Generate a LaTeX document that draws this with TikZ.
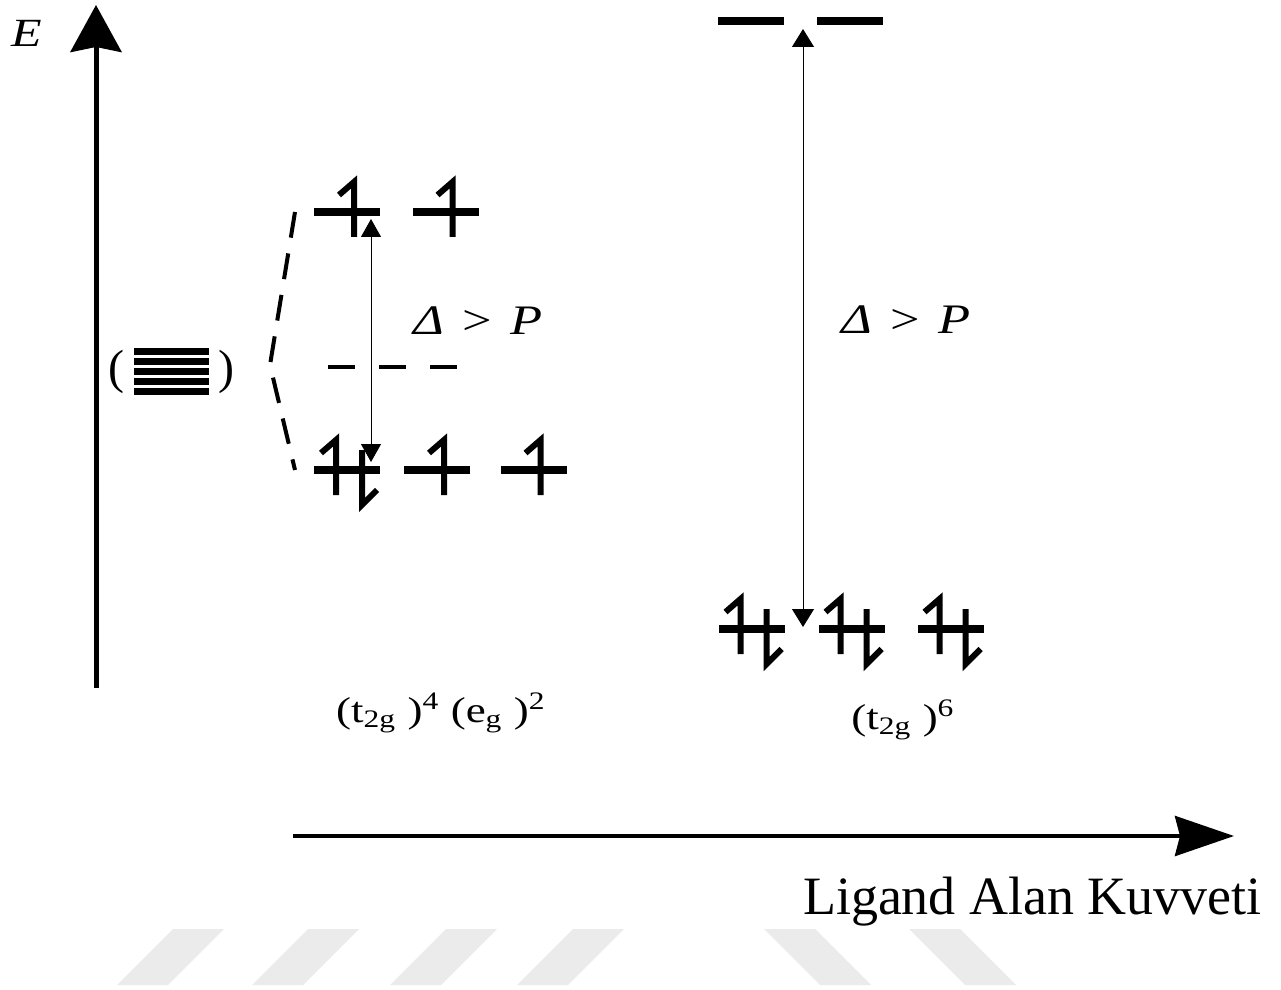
\documentclass[tikz,border=0pt]{standalone}
\usepackage{fontspec}
\setmainfont{Liberation Serif}
\usepackage{graphicx}
\usetikzlibrary{arrows.meta}
\newcommand{\sx}[1]{\scalebox{1.25}[1]{#1}}
\begin{document}
\begin{tikzpicture}[x=0.5pt,y=-0.5pt,
  lvl/.style={fill=black,draw=none,minimum width=33pt,minimum height=4pt,inner sep=0pt,outer sep=0pt},
  elec/.style={line width=3pt,line cap=butt,line join=miter},
  axis/.style={line width=2.5pt},
  gap/.style={line width=0.5pt,{Triangle[length=9pt,width=10pt]}-{Triangle[length=9pt,width=10pt]}},
  lbl/.style={inner sep=0pt,outer sep=0pt},
  wm/.style={fill=black!8,draw=none},
  upe/.pic={\draw[elec] (-15,-17) -- (0,-30) -- (0,25);},
  dne/.pic={\draw[elec] (0,-20) -- (0,35) -- (15,20);}
]
\useasboundingbox (0,0) rectangle (1281,990);

% watermark
\foreach \b in {117,252,390,517}{
  \fill[wm] (\b,985) -- ({\b+51},985) -- ({\b+107},929) -- ({\b+56},929) -- cycle;}
\foreach \t in {764,909}{
  \fill[wm] (\t,929) -- ({\t+51},929) -- ({\t+107},985) -- ({\t+56},985) -- cycle;}

% axes
\coordinate (ybot) at (96,688);
\coordinate (ytop) at (96,5);
\draw[axis,-{Stealth[length=23.5pt,width=25.5pt,inset=2.5pt]}] (ybot) -- (ytop);
\node[lbl] (E) at (27,33) {\fontsize{20pt}{20pt}\selectfont\sx{\itshape E}};
\coordinate (xl) at (293,836);
\coordinate (xr) at (1234,836);
\draw[line width=2pt,-{Stealth[length=29.5pt,width=20pt,inset=2.5pt]}] (xl) -- (xr);
\node[lbl,anchor=base west] (lak) at (803,914) {\fontsize{27pt}{27pt}\selectfont Ligand Alan Kuvveti};

% free ion degenerate levels
\foreach \y in {351,361,371,381,391}{\fill (134,{\y-3.5}) rectangle (209,{\y+3.5});}
\node[lbl] (lp) at (116,372) {\fontsize{24pt}{24pt}\selectfont (};
\node[lbl] (rp) at (226,372) {\fontsize{24pt}{24pt}\selectfont )};

% high spin (left)
\node[lvl] (eg1) at (347,212) {};
\node[lvl] (eg2) at (445.5,212) {};
\node[lvl] (t1) at (347,470) {};
\node[lvl] (t2) at (437,470) {};
\node[lvl] (t3) at (533.5,470) {};
\pic at ([xshift=3.5pt]eg1.center) {upe};
\pic at ([xshift=3.5pt]eg2.center) {upe};
\pic at ([xshift=-5.5pt]t1.center) {upe};
\pic at ([xshift=7.5pt]t1.center) {dne};
\pic at ([xshift=3.5pt]t2.center) {upe};
\pic at ([xshift=3.5pt]t3.center) {upe};
\coordinate (bary) at (270,365);
\draw[line width=2pt,dash pattern=on 13pt off 8pt] (295,212) -- (bary) -- (295,470);
\coordinate (ml) at (328,367);
\coordinate (mr) at (458,367);
\draw[line width=2pt,dash pattern=on 13.5pt off 12pt] (ml) -- (mr);
\coordinate (la) at (371,219);
\coordinate (lb) at (371,462);
\draw[gap] (la) -- (lb);
\node[lbl] (dl) at (478,321) {\fontsize{21pt}{21pt}\selectfont\sx{\itshape Δ\hspace{0.35em}\upshape >\hspace{0.35em}\itshape P}};
\node[lbl] (cl) at (441,713) {\fontsize{18pt}{18pt}\selectfont\sx{(t\textsubscript{2g}\ )\textsuperscript{4}\ (e\textsubscript{g}\ )\textsuperscript{2}}};

% low spin (right)
\node[lvl] (e1) at (751,21) {};
\node[lvl] (e2) at (850,21) {};
\node[lvl] (r1) at (751.5,629) {};
\node[lvl] (r2) at (851.5,629) {};
\node[lvl] (r3) at (950.5,629) {};
\foreach \n in {r1,r2,r3}{
  \pic at ([xshift=-5.5pt]\n.center) {upe};
  \pic at ([xshift=7.5pt]\n.center) {dne};}
\coordinate (ra) at (803,29);
\coordinate (rb) at (803,627);
\draw[gap,{Triangle[length=9pt,width=11pt]}-{Triangle[length=9pt,width=11pt]}] (ra) -- (rb);
\node[lbl] (dr) at (906,320) {\fontsize{21pt}{21pt}\selectfont\sx{\itshape Δ\hspace{0.35em}\upshape >\hspace{0.35em}\itshape P}};
\node[lbl] (cr) at (903,720) {\fontsize{18pt}{18pt}\selectfont\sx{(t\textsubscript{2g}\ )\textsuperscript{6}}};
\end{tikzpicture}
\end{document}
